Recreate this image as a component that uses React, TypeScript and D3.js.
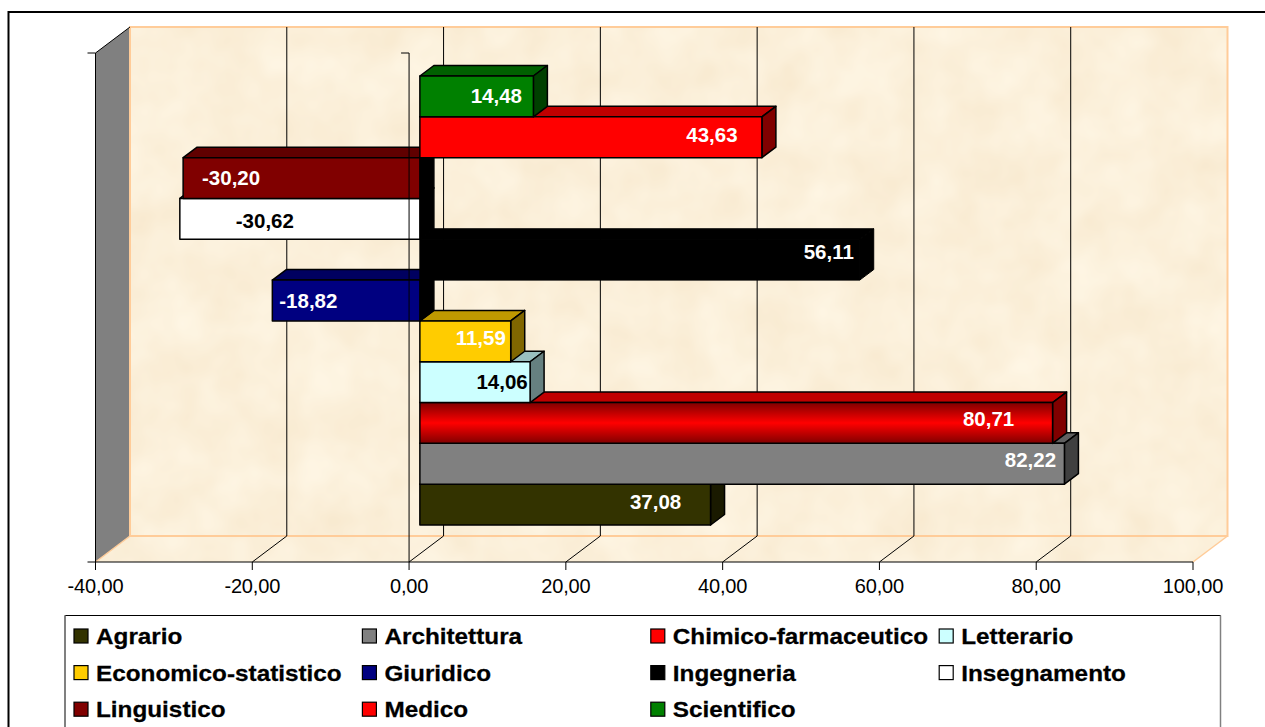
import React from "react";
import * as d3 from "d3";

const categories = ["Agrario","Architettura","Chimico-farmaceutico","Letterario","Economico-statistico","Giuridico","Ingegneria","Insegnamento","Linguistico","Medico","Scientifico"];
const values = [37.08,82.22,80.71,14.06,11.59,-18.82,56.11,-30.62,-30.20,43.63,14.48];
const frontColors = ["#333300","#808080","#FF0000","#CCFFFF","#FFCC00","#000080","#000000","#FFFFFF","#800000","#FF0000","#008000"];
const topColors = ["#262600","#606060","#C00000","#99BFBF","#BF9900","#000060","#000000","#BFBFBF","#600000","#C00000","#006000"];
const sideColors = ["#1A1A00","#404040","#800000","#668080","#806600","#000040","#000000","#808080","#400000","#800000","#004000"];
const labelColors = ["#FFFFFF","#FFFFFF","#FFFFFF","#000000","#FFFFFF","#FFFFFF","#FFFFFF","#000000","#FFFFFF","#FFFFFF","#FFFFFF"];
const axisTicks = [-40,-20,0,20,40,60,80,100];
const legendOrder = ["Agrario","Architettura","Chimico-farmaceutico","Letterario","Economico-statistico","Giuridico","Ingegneria","Insegnamento","Linguistico","Medico","Scientifico"];

// layout only
const labelNudgeX = [-55,-34,-64,-28,-30,36,-31,85,48,-50,-37];
const labelNudgeY = [-3,-4,-4,0,-3,0,-8,2,0,-2,0];
const FRONT_BOTTOM = 562, FRONT_TOP = 53, WALL_DX = 34.5, WALL_DY = -26;
const BAR_SHIFT = 10.8, BAR_DX = 14, BAR_DY = -10.5;
const FONT = "'Liberation Sans', Arial, sans-serif";

const x = d3.scaleLinear().domain([-40, 100]).range([95.5, 1193]);
const y = d3.scaleBand<string>().domain(categories).range([525, 76]).paddingInner(0).paddingOuter(0);
const line = d3.line<[number, number]>();
const fmt = (v: number) => v.toFixed(2).replace(".", ",");

function Bar({ i }: { i: number }) {
  const name = categories[i];
  const v = values[i];
  const x0 = x(0) + BAR_SHIFT;
  const x1 = x(v) + BAR_SHIFT;
  const l = Math.min(x0, x1), r = Math.max(x0, x1);
  const t = y(name) as number;
  const b = t + y.bandwidth();
  const isBlack = frontColors[i] === "#000000";
  const sideFill = v < 0 ? "#000000" : sideColors[i];
  const front = name === "Chimico-farmaceutico" ? "url(#chimico)" : frontColors[i];
  return (
    <g stroke="#000000" strokeWidth={isBlack ? 1 : 1.5} strokeLinejoin="round">
      <path d={line([[l, t],[l + BAR_DX, t + BAR_DY],[r + BAR_DX, t + BAR_DY],[r, t]]) + "Z"} fill={topColors[i]} />
      <path d={line([[r, t],[r + BAR_DX, t + BAR_DY],[r + BAR_DX, b + BAR_DY],[r, b]]) + "Z"} fill={sideFill} />
      <rect x={l} y={t} width={r - l} height={b - t} fill={front} />
    </g>
  );
}

export default function App() {
  const wallL = x(-40) + WALL_DX, wallR = x(100) + WALL_DX;
  const wallT = FRONT_TOP + WALL_DY, wallB = FRONT_BOTTOM + WALL_DY;
  const floor = line([[x(-40), FRONT_BOTTOM],[wallL, wallB],[wallR, wallB],[x(100), FRONT_BOTTOM]]) + "Z";
  const back = line([[wallL, wallT],[wallR, wallT],[wallR, wallB],[wallL, wallB]]) + "Z";
  return (
    <svg width={1265} height={727} viewBox="0 0 1265 727" style={{ position: "fixed", left: 0, top: 0, background: "#fff" }}>
      <defs>
        <filter id="parchment" x="0" y="0" width="100%" height="100%" colorInterpolationFilters="sRGB">
          <feTurbulence type="fractalNoise" baseFrequency="0.02" numOctaves={3} seed={7} />
          <feColorMatrix type="matrix" values="0 0 0 0.03 0.97  0 0 0 0.06 0.91  0 0 0 0.1 0.805  0 0 0 0 1" />
        </filter>
        <clipPath id="wallClip"><path d={floor + back} /></clipPath>
        <linearGradient id="chimico" x1="0" y1="0" x2="0" y2="1">
          <stop offset="0" stopColor="#800000" />
          <stop offset="0.5" stopColor="#FF0000" />
          <stop offset="1" stopColor="#800000" />
        </linearGradient>
      </defs>

      {/* outer frame */}
      <path d="M8.5,727V12H1265" fill="none" stroke="#000" strokeWidth={2} />

      {/* walls */}
      <g clipPath="url(#wallClip)">
        <rect x={x(-40)} y={wallT} width={wallR - x(-40)} height={FRONT_BOTTOM - wallT} filter="url(#parchment)" />
      </g>
      <path d={line([[x(-40), FRONT_TOP],[wallL, wallT],[wallL, wallB],[x(-40), FRONT_BOTTOM]]) + "Z"} fill="#808080" />
      <path d={back} fill="none" stroke="#FFCC99" strokeWidth={2} />
      <path d={line([[x(100), FRONT_BOTTOM],[wallR, wallB]]) ?? ""} stroke="#FFCC99" strokeWidth={1.5} />
      <path d={line([[x(-40), FRONT_BOTTOM],[wallL, wallB]]) ?? ""} stroke="#FFCC99" strokeWidth={1.5} />

      {/* back gridlines and floor diagonals */}
      {axisTicks.filter(t => t > -40 && t < 100).map(t => (
        <g key={t} stroke="#000" strokeWidth={1}>
          <line x1={x(t) + WALL_DX} x2={x(t) + WALL_DX} y1={wallT} y2={wallB} />
          <line x1={x(t)} y1={FRONT_BOTTOM} x2={x(t) + WALL_DX} y2={wallB} />
        </g>
      ))}

      {/* bars, back to front */}
      {categories.map((name, i) => <Bar key={name} i={i} />)}

      {/* value axis frame */}
      <g stroke="#000" strokeWidth={1} fill="none">
        <path d={`M${x(-40) - 8},${FRONT_TOP}H${x(-40)}V${FRONT_BOTTOM}`} />
        <path d={`M${x(-40)},${FRONT_TOP}L${wallL},${wallT}`} />
        <path d={`M${x(0) - 8},${FRONT_TOP}H${x(0)}V${FRONT_BOTTOM}`} />
        <path d={`M${x(-40) - 8},${FRONT_BOTTOM}H${x(100)}`} />
        {axisTicks.map(t => <line key={t} x1={x(t)} x2={x(t)} y1={FRONT_BOTTOM} y2={FRONT_BOTTOM + 8} />)}
      </g>

      {/* data labels */}
      {categories.map((name, i) => (
        <text key={name} x={x(values[i]) + BAR_SHIFT + labelNudgeX[i]} y={(y(name) as number) + y.bandwidth() / 2 + 7 + labelNudgeY[i]}
          textAnchor="middle" fontFamily={FONT} fontWeight="bold" fontSize={20.5} letterSpacing={0} fill={labelColors[i]}>
          {fmt(values[i])}
        </text>
      ))}

      {/* tick labels */}
      {axisTicks.map(t => (
        <text key={t} x={x(t)} y={593} textAnchor="middle" fontFamily={FONT} fontSize={20} letterSpacing={-0.15} fill="#000">{fmt(t)}</text>
      ))}

      {/* legend */}
      <path d="M65,727V615.5H1220.5V727" fill="none" stroke="#000" strokeWidth={1} />
      <line x1={65} x2={65} y1={615.5} y2={727} stroke="#808080" strokeWidth={2} />
      <line x1={1220.5} x2={1220.5} y1={615.5} y2={727} stroke="#808080" strokeWidth={1.5} />
      {legendOrder.map((name, k) => {
        const col = k % 4, row = Math.floor(k / 4);
        const sx = 74 + col * 288.4, sy = 629 + row * 36.6;
        const i = categories.indexOf(name);
        return (
          <g key={name}>
            <rect x={sx} y={sy} width={14} height={14} fill={frontColors[i]} stroke="#000" strokeWidth={1.2} />
            <text transform={`translate(${sx + 22},${sy + 15}) scale(1.105,1)`} fontFamily={FONT} fontWeight="bold" fontSize={22} fill="#000" stroke="#000" strokeWidth={0.25}>{name}</text>
          </g>
        );
      })}
    </svg>
  );
}
